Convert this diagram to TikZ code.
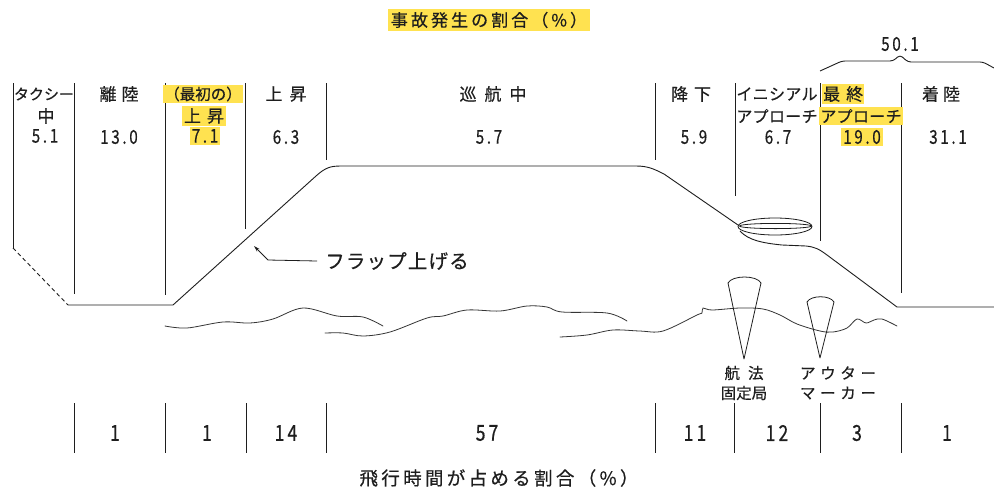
\documentclass[tikz,border=0pt]{standalone}
\usepackage{fontspec}
\setmainfont{Noto Sans CJK JP}
\newfontfamily\jp[FakeBold=0.5]{Noto Sans CJK JP}
\newfontfamily\jpnum[FakeStretch=0.8, FakeBold=0.5]{Noto Sans CJK JP}
\usetikzlibrary{arrows.meta}

\definecolor{ink}{RGB}{30,30,30}
\definecolor{marker}{RGB}{255,226,80}

\tikzset{
  lbl/.style={font=\jp\fontsize{17}{18}\selectfont, text=ink, inner sep=0pt},
  small/.style={font=\jp\fontsize{15.5}{17}\selectfont, text=ink, inner sep=0pt},
  kata/.style={font={\jp\fontsize{16}{17}\selectfont\addfontfeatures{LetterSpace=2}}, text=ink, inner sep=0pt},
  num/.style={font={\jpnum\fontsize{19}{20}\selectfont\addfontfeatures{LetterSpace=14}}, text=ink, inner sep=0pt},
  bnum/.style={font={\jpnum\fontsize{22}{23}\selectfont\addfontfeatures{LetterSpace=14}}, text=ink, inner sep=0pt},
  heading/.style={font={\jp\fontsize{17}{18}\selectfont\addfontfeatures{LetterSpace=18}}, text=ink, inner sep=0pt},
  hl/.style={fill=marker, inner xsep=2pt, inner ysep=2pt},
  divider/.style={draw=ink, line width=0.9pt},
  flight/.style={draw=ink, line width=0.9pt, line join=round},
  terrain/.style={draw=ink!90, line width=0.8pt, line cap=round},
}

\begin{document}
\begin{tikzpicture}[x=1pt, y=-1pt]
\fill[white] (0,0) rectangle (994,491);
\useasboundingbox (0,0) rectangle (994,491);

% ---- heading: share of accidents ----
\node[heading, hl, inner xsep=3pt, inner ysep=3pt] (acchead) at (489,20) {事故発生の割合（\%）};

% ---- upper phase dividers ----
\foreach \i/\x/\yb in {1/13/248, 2/74/294, 3/165/295, 4/245/229, 5/326/160,
                       6/655/160, 7/735/196, 8/820/241, 9/901/293} {
  \coordinate (top\i) at (\x,83);
  \coordinate (bot\i) at (\x,\yb);
  \draw[divider] (top\i) -- (bot\i);
}

% ---- phase names and accident shares ----
\node[kata, font={\jp\fontsize{15}{16}\selectfont}] (taxi1) at (44,94) {タクシー};
\node[lbl] (taxi2) at (46,116) {中};
\node[num] (taxiv) at (45,136) {5.1};

\node[lbl] (tkoff) at (119,94) {離\hspace{5pt}陸};
\node[num] (tkoffv) at (119,137) {13.0};

\node[small, hl, inner xsep=1pt] (icl1) at (203,94) {（最初の）};
\node[lbl, hl] (icl2) at (204,116) {上\hspace{6pt}昇};
\node[num, hl] (iclv) at (205,136) {7.1};

\node[lbl] (climb) at (286,94) {上\hspace{7pt}昇};
\node[num] (climbv) at (286,137) {6.3};

\node[lbl] (cruise) at (493,94) {巡\hspace{8pt}航\hspace{8pt}中};
\node[num] (cruisev) at (489,137) {5.7};

\node[lbl] (desc) at (691,94) {降\hspace{6pt}下};
\node[num] (descv) at (694,137) {5.9};

\node[kata] (ini1) at (777,94) {イニシアル};
\node[kata] (ini2) at (777,116) {アプローチ};
\node[num] (iniv) at (778,137) {6.7};

\node[lbl, hl, inner xsep=1pt, anchor=west] (fin1) at (822,94) {最\hspace{6pt}終};
\node[kata, hl, inner xsep=1pt] (fin2) at (861,116) {アプローチ};
\node[num, hl] (finv) at (862,137) {19.0};

\node[lbl] (land) at (941,94) {着\hspace{4pt}陸};
\node[num] (landv) at (948,137) {31.1};

% ---- combined share over the last three phases ----
\node[num] (sum) at (900,44) {50.1};
\coordinate (brl) at (820,71);
\coordinate (brr) at (994,68);
\draw[flight, rounded corners=3pt] (brl) -- (842,61) -- (893,61) -- (900,55)
  -- (908,62) -- (983,62) -- (brr);

% ---- flight profile ----
\draw[flight, dashed, dash pattern=on 4pt off 3pt] (bot1) -- (68,305);
\draw[flight] (68,305) -- (173,305) -- (316,176)
  .. controls (326,167) and (331,166) .. (342,166) -- (636,166)
  .. controls (648,166) and (654,169) .. (664,174) -- (738,225);
\draw[flight] (740,231) .. controls (748,240) and (762,243) .. (782,245)
  -- (806,246) .. controls (815,247) and (819,249) .. (827,255)
  -- (897,307) -- (994,307);

% holding pattern
\draw[flight, line width=0.8pt] (775,226.5) ellipse [x radius=37pt, y radius=8.5pt];
\draw[flight, line width=0.8pt] (775.5,226) ellipse [x radius=36pt, y radius=2.6pt];

% ---- flaps up ----
\node[lbl, font={\jp\fontsize{19.5}{21}\selectfont\addfontfeatures{LetterSpace=6}}] (flap) at (397,261) {フラップ上げる};
\coordinate (flapbend) at (268,260);
\coordinate (flaptip) at (254,246);
\draw[draw=ink, line width=0.8pt, -{Stealth[length=6pt, width=3.5pt]}]
  ([xshift=-8pt]flap.west) -- (flapbend) -- (flaptip);

% ---- terrain ----
\draw[terrain] plot[smooth, tension=0.55] coordinates {
  (165,326) (187,328) (223,322) (250,323) (273,319) (303,308)
  (337,316) (363,317) (383,326)};
\draw[terrain] plot[smooth, tension=0.55] coordinates {
  (325,333) (343,333) (363,336) (390,332) (427,318) (443,316) (467,310)
  (500,311) (527,306) (547,307) (562,312) (607,313) (627,321)};
\draw[terrain] plot[smooth, tension=0.55] coordinates {
  (560,337) (587,335) (613,330) (640,331) (663,331) (697,315) (702,313)
  (703,308) (712,310) (740,308) (763,309) (780,315) (797,324) (820,331)
  (833,332) (847,328) (857,319) (866,323) (874,320) (882,319) (897,326)};

% ---- radio aids ----
\coordinate (vorapex) at (744,359);
\draw[flight, line width=0.8pt] (vorapex) -- (728,283)
  .. controls (732,275) and (757,275) .. (761,283) -- cycle;
\coordinate (omapex) at (820,358);
\draw[flight, line width=0.8pt] (omapex) -- (807,302)
  .. controls (811,295) and (830,295) .. (834,302) -- cycle;

\node[small] (vor1) at (744,373) {航\hspace{8pt}法};
\node[small] (vor2) at (744,393) {固定局};
\node[small, font={\jp\fontsize{15.5}{17}\selectfont\addfontfeatures{LetterSpace=30}}] (om1) at (838,373) {アウター};
\node[small, font={\jp\fontsize{15.5}{17}\selectfont\addfontfeatures{LetterSpace=30}}] (om2) at (838,393) {マーカー};

% ---- lower dividers and share of flight time ----
\foreach \i/\x in {1/74, 2/165, 3/246, 4/326, 5/655, 6/734, 7/820, 8/901} {
  \coordinate (ltop\i) at (\x,403);
  \coordinate (lbot\i) at (\x,453);
  \draw[divider] (ltop\i) -- (lbot\i);
}
\node[bnum] (t1) at (115,433) {1};
\node[bnum] (t2) at (207,433) {1};
\node[bnum] (t3) at (286,433) {14};
\node[bnum] (t4) at (487,433) {57};
\node[bnum] (t5) at (695,433) {11};
\node[bnum] (t6) at (777,433) {12};
\node[bnum] (t7) at (857,433) {3};
\node[bnum] (t8) at (947,433) {1};

\node[heading, font={\jp\fontsize{18.5}{20}\selectfont\addfontfeatures{LetterSpace=18}}] (timehead) at (499,478) {飛行時間が占める割合（\%）};
\end{tikzpicture}
\end{document}
